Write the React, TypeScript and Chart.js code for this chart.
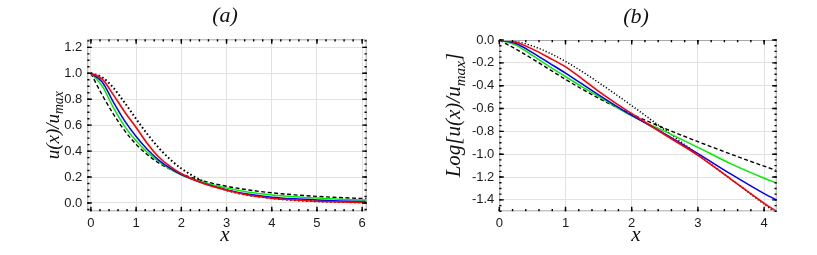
import React, { useEffect, useRef } from 'react';
import { Chart, registerables } from 'chart.js';
Chart.register(...registerables);

// ---------- Panel (a): u(x)/u_max ----------
const xA = [0, 0.25, 0.5, 0.75, 1, 1.25, 1.5, 1.75, 2, 2.5, 3, 3.5, 4, 4.5, 5, 5.5, 6, 6.1];
const aDotted = [1, 0.969, 0.887, 0.772, 0.648, 0.53, 0.425, 0.337, 0.266, 0.163, 0.099, 0.06, 0.037, 0.022, 0.013, 0.008, 0.005, 0.0045];
const aRed = [1, 0.955, 0.832, 0.7, 0.582, 0.457, 0.355, 0.282, 0.226, 0.148, 0.098, 0.06, 0.037, 0.023, 0.014, 0.0085, 0.005, 0.0045];
const aBlue = [1, 0.933, 0.776, 0.631, 0.513, 0.412, 0.331, 0.268, 0.219, 0.151, 0.101, 0.067, 0.045, 0.032, 0.023, 0.016, 0.0115, 0.011];
const aGreen = [1, 0.902, 0.733, 0.589, 0.479, 0.389, 0.32, 0.262, 0.216, 0.158, 0.115, 0.082, 0.062, 0.048, 0.0376, 0.0295, 0.0234, 0.0225];
const aDashed = [1, 0.832, 0.684, 0.556, 0.452, 0.372, 0.309, 0.261, 0.224, 0.168, 0.129, 0.1, 0.0785, 0.063, 0.051, 0.042, 0.035, 0.034];

// ---------- Panel (b): Log[u(x)/u_max] ----------
const xB = [0, 0.25, 0.5, 0.75, 1, 1.25, 1.5, 1.75, 2, 2.5, 3, 3.5, 4, 4.2];
const bDotted = [0, -0.0135, -0.052, -0.112, -0.188, -0.276, -0.372, -0.472, -0.575, -0.787, -1.003, -1.219, -1.437, -1.523];
const bRed = [0, -0.02, -0.08, -0.155, -0.235, -0.34, -0.45, -0.55, -0.645, -0.83, -1.01, -1.22, -1.43, -1.505];
const bBlue = [0, -0.03, -0.11, -0.2, -0.29, -0.385, -0.48, -0.572, -0.66, -0.822, -0.995, -1.175, -1.345, -1.405];
const bGreen = [0, -0.045, -0.135, -0.23, -0.32, -0.41, -0.495, -0.582, -0.665, -0.8, -0.94, -1.085, -1.21, -1.255];
const bDashed = [0, -0.08, -0.165, -0.255, -0.345, -0.43, -0.51, -0.583, -0.65, -0.775, -0.89, -1.0, -1.105, -1.145];

const SERIF = '"Liberation Serif", "DejaVu Serif", serif';
const SANS = '"Liberation Sans", Arial, sans-serif';

const framePlugin = {
  id: 'frameTicks',
  afterDatasetsDraw(chart: any, _args: any, opts: any) {
    const { ctx, chartArea: ca, scales } = chart;
    const x = scales.x, y = scales.y;
    ctx.save();
    ctx.strokeStyle = '#a8a8a8';
    ctx.lineWidth = 1;
    ctx.strokeRect(ca.left + 0.5, ca.top + 0.5, ca.width - 1, ca.height - 1);
    ctx.strokeStyle = '#000';
    ctx.lineWidth = 1.4;
    const xs = (step: number, len: number) => {
      const i0 = Math.ceil(x.min / step - 1e-6), i1 = Math.floor(x.max / step + 1e-6);
      for (let i = i0; i <= i1; i++) {
        const px = x.getPixelForValue(i * step);
        ctx.beginPath();
        ctx.moveTo(px, ca.top); ctx.lineTo(px, ca.top + len);
        ctx.moveTo(px, ca.bottom); ctx.lineTo(px, ca.bottom - len);
        ctx.stroke();
      }
    };
    const ys = (step: number, len: number) => {
      const i0 = Math.ceil(y.min / step - 1e-6), i1 = Math.floor(y.max / step + 1e-6);
      for (let i = i0; i <= i1; i++) {
        const py = y.getPixelForValue(i * step);
        ctx.beginPath();
        ctx.moveTo(ca.left, py); ctx.lineTo(ca.left + len, py);
        ctx.moveTo(ca.right, py); ctx.lineTo(ca.right - len, py);
        ctx.stroke();
      }
    };
    xs(opts.xMinor, 2.2); xs(opts.xMajor, 4.5);
    ys(opts.yMinor, 2.2); ys(opts.yMajor, 4.5);
    ctx.restore();
  },
};

const labelPlugin = {
  id: 'panelLabels',
  afterDraw(chart: any, _args: any, opts: any) {
    const { ctx, chartArea: ca } = chart;
    const cx = (ca.left + ca.right) / 2 - 2;
    ctx.save();
    ctx.fillStyle = '#111';
    ctx.textAlign = 'center';
    ctx.textBaseline = 'alphabetic';
    // title
    ctx.font = `italic 22px ${SERIF}`;
    ctx.fillText(opts.title, cx, ca.top - 17);
    // x label
    ctx.font = `italic 21px ${SERIF}`;
    ctx.fillText('x', cx, ca.bottom + 30);
    // y label with subscript, rotated
    const size = opts.ySize;
    const subSize = size * 0.72;
    const parts = opts.yParts as { t: string; sub?: boolean }[];
    const fontFor = (p: any) => `italic ${p.sub ? subSize : size}px ${SERIF}`;
    let total = 0;
    const widths = parts.map((p) => { ctx.font = fontFor(p); const w = ctx.measureText(p.t).width; total += w; return w; });
    ctx.translate(ca.left - opts.yOffset, (ca.top + ca.bottom) / 2 + opts.yShift);
    ctx.rotate(-Math.PI / 2);
    ctx.textAlign = 'left';
    let pos = -total / 2;
    parts.forEach((p, i) => {
      ctx.font = fontFor(p);
      ctx.fillText(p.t, pos, p.sub ? size * 0.22 : 0);
      pos += widths[i];
    });
    ctx.restore();
  },
};

function makeDs(xs: number[], ys: number[], color: string, width: number, dash: number[], order: number) {
  return {
    data: xs.map((x, i) => ({ x, y: ys[i] })),
    borderColor: color,
    borderWidth: width,
    borderDash: dash,
    pointRadius: 0,
    cubicInterpolationMode: 'monotone',
    fill: false,
    order,
  };
}

function makeConfig(p: any) {
  return {
    type: 'line',
    data: {
      datasets: [
        makeDs(p.xs, p.dotted, '#000000', p.dotW, p.dotDash, 5),
        makeDs(p.xs, p.dashed, '#000000', 1.4, [4, 2.5], 4),
        makeDs(p.xs, p.green, '#00ee00', 1.5, [], 3),
        makeDs(p.xs, p.blue, '#0000ff', 1.5, [], 2),
        makeDs(p.xs, p.red, '#ff0000', 1.6, [], 1),
      ],
    },
    options: {
      responsive: false,
      animation: false,
      devicePixelRatio: 1,
      events: [],
      layout: { padding: { left: 0, right: p.padRight, top: p.top, bottom: 0 } },
      plugins: {
        legend: { display: false },
        tooltip: { enabled: false },
        title: { display: false },
        frameTicks: { xMajor: 1, xMinor: 0.2, yMajor: 0.2, yMinor: 0.05 },
        panelLabels: { title: p.title, yParts: p.yParts, ySize: p.ySize, yOffset: p.yOffset, yShift: p.yShift },
      },
      scales: {
        x: {
          type: 'linear',
          min: p.xMin,
          max: p.xMax,
          afterFit: (s: any) => { s.height = p.xAxisH; },
          border: { display: false },
          grid: { color: '#e2e2e2', lineWidth: 1, drawTicks: false },
          ticks: {
            stepSize: 1,
            includeBounds: false,
            padding: 4,
            color: '#1a1a1a',
            font: { family: SANS, size: 13 },
            maxRotation: 0,
            callback: (v: any) => String(Math.round(v)),
          },
        },
        y: {
          type: 'linear',
          min: p.yMin,
          max: p.yMax,
          afterFit: (s: any) => { s.width = p.yAxisW; },
          border: { display: false },
          grid: { color: '#e2e2e2', lineWidth: 1, drawTicks: false },
          ticks: {
            stepSize: 0.2,
            includeBounds: false,
            padding: 5,
            color: '#1a1a1a',
            font: { family: SANS, size: 13 },
            callback: (v: any) => (Math.abs(v) < 1e-9 ? 0 : v).toFixed(1),
          },
        },
      },
    },
    plugins: [framePlugin, labelPlugin],
  } as any;
}

function Panel(props: { left: number; width: number; cfg: any }) {
  const ref = useRef<HTMLCanvasElement | null>(null);
  useEffect(() => {
    if (!ref.current) return;
    const chart = new Chart(ref.current, makeConfig(props.cfg));
    return () => chart.destroy();
  }, []);
  return (
    <canvas
      ref={ref}
      width={props.width}
      height={255}
      style={{ position: 'absolute', left: props.left, top: 0, width: props.width, height: 255 }}
    />
  );
}

const cfgA = {
  xs: xA, dotted: aDotted, red: aRed, blue: aBlue, green: aGreen, dashed: aDashed,
  dotW: 2, dotDash: [1.6, 2.4],
  xMin: -0.08, xMax: 6.1, yMin: -0.064, yMax: 1.262,
  top: 39.3, padRight: 43.3, yAxisW: 87.3, xAxisH: 43.7,
  title: '(a)', yParts: [{ t: 'u(x)/u' }, { t: 'max', sub: true }], ySize: 19, yOffset: 28.5, yShift: 0,
};

const cfgB = {
  xs: xB, dotted: bDotted, red: bRed, blue: bBlue, green: bGreen, dashed: bDashed,
  dotW: 1.5, dotDash: [1.2, 2],
  xMin: 0, xMax: 4.19, yMin: -1.5, yMax: 0,
  top: 40, padRight: 40.3, yAxisW: 89.3, xAxisH: 43.7,
  title: '(b)', yParts: [{ t: 'Log[u(x)/u' }, { t: 'max', sub: true }, { t: ']' }], ySize: 21, yOffset: 39, yShift: -10.5,
};

export default function App() {
  return (
    <div style={{ position: 'absolute', left: 0, top: 0, width: 817, height: 255, background: '#fff' }}>
      <Panel left={0} width={410} cfg={cfgA} />
      <Panel left={410} width={407} cfg={cfgB} />
    </div>
  );
}
